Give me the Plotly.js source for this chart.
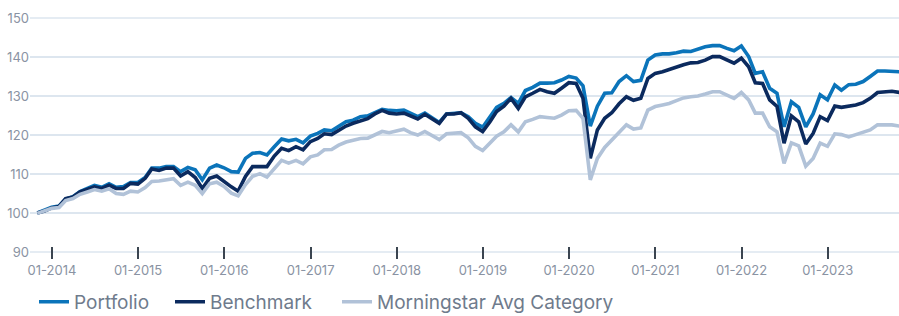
<!DOCTYPE html>
<html>
<head>
<meta charset="utf-8">
<script src="https://cdn.plot.ly/plotly-3.0.1.min.js"></script>
<style>
  html, body { margin: 0; padding: 0; background: #ffffff; }
  #chart { width: 899px; height: 316px; }
</style>
</head>
<body>
<div id="chart"></div>
<script>
// Monthly month-end observations, Oct 2013 .. Oct 2023 (growth of 100)
const startYear = 2013;
const startMonth = 10; // October

const portfolio = [
  100, 100.8, 101.5, 101.8, 103.6, 104.2, 105.5, 106.3, 107.1, 106.6,
  107.5, 106.6, 106.8, 107.8, 107.8, 109.1, 111.5, 111.5, 111.9, 111.9,
  110.6, 111.7, 111.1, 108.5, 111.5, 112.3, 111.6, 110.6, 110.5, 114.0,
  115.3, 115.5, 114.9, 117.0, 119.0, 118.5, 118.9, 118.0, 119.7, 120.4,
  121.3, 121.1, 122.3, 123.4, 123.8, 124.7, 124.9, 125.7, 126.6, 126.3,
  126.2, 126.4, 125.6, 124.7, 125.6, 124.3, 123.2, 125.4, 125.6, 125.7,
  124.7, 123.0, 122.0, 124.5, 127.1, 128.1, 129.6, 128.1, 131.4, 132.2,
  133.3, 133.3, 133.4, 134.1, 135.0, 134.6, 132.6, 122.3, 127.4, 130.7,
  130.8, 133.7, 135.2, 133.7, 134.0, 139.2, 140.5, 140.8, 140.8, 141.1,
  141.5, 141.4, 142.0, 142.6, 142.9, 142.9, 142.2, 141.6, 142.8, 140.1,
  135.8, 136.2, 132.0, 130.7, 122.1, 128.5, 127.1, 122.1, 125.4, 130.3,
  129.0, 132.8, 131.5, 132.9, 133.0, 133.7, 135.0, 136.4, 136.4, 136.2,
  136.2
];

const benchmark = [
  100, 100.5, 101.3, 101.7, 103.7, 104.1, 105.4, 106.0, 106.7, 106.3,
  107.1, 106.3, 106.3, 107.6, 107.4, 108.9, 111.3, 110.9, 111.5, 111.5,
  109.5, 110.6, 109.1, 106.3, 108.9, 109.5, 108.0, 106.7, 105.6, 109.4,
  111.9, 111.9, 111.9, 114.6, 116.6, 116.0, 117.0, 116.2, 118.3, 119.1,
  120.3, 120.1, 121.3, 122.3, 123.0, 123.7, 124.2, 125.4, 126.3, 125.6,
  125.4, 125.6, 124.8, 124.1, 125.3, 124.1, 123.0, 125.4, 125.4, 125.7,
  124.3, 122.1, 120.9, 123.4, 126.0, 127.4, 129.4, 126.8, 129.8, 130.7,
  131.7, 131.1, 130.7, 132.0, 133.4, 133.2, 129.4, 114.0, 121.3, 124.3,
  125.7, 128.0, 129.8, 128.9, 129.4, 134.5, 135.8, 136.2, 136.8, 137.5,
  138.0, 138.5, 138.6, 139.2, 140.1, 140.1, 139.2, 138.4, 139.7, 137.5,
  133.4, 133.2, 129.0, 127.3, 117.9, 124.9, 123.4, 117.7, 120.4, 124.7,
  123.7, 127.4, 127.1, 127.3, 127.7, 128.3, 129.4, 130.9, 131.1, 131.2,
  130.9
];

const category = [
  99.9, 100.5, 101.2, 101.4, 103.2, 103.7, 104.8, 105.4, 106.0, 105.6,
  106.2, 105.0, 104.8, 105.6, 105.4, 106.5, 108.1, 108.2, 108.5, 108.8,
  107.1, 107.9, 107.1, 105.0, 107.5, 107.9, 106.8, 105.1, 104.4, 107.3,
  109.4, 110.1, 109.2, 111.5, 113.5, 112.8, 113.5, 112.6, 114.4, 114.9,
  116.2, 116.3, 117.4, 118.2, 118.6, 119.1, 119.2, 120.0, 120.9, 120.6,
  121.1, 121.5, 120.6, 120.0, 120.9, 119.8, 118.8, 120.3, 120.4, 120.6,
  119.3, 117.1, 116.0, 117.9, 119.7, 120.8, 122.6, 120.8, 123.4, 124.0,
  124.7, 124.5, 124.3, 125.1, 126.2, 126.3, 124.3, 108.5, 114.0, 116.8,
  118.7, 120.4, 122.6, 121.5, 121.8, 126.4, 127.3, 127.7, 128.1, 128.8,
  129.5, 129.8, 130.0, 130.5, 131.1, 131.1, 130.2, 129.4, 130.9, 129.0,
  125.6, 125.6, 122.1, 120.8, 112.7, 118.0, 117.2, 112.0, 114.0, 117.9,
  117.1, 120.3, 120.1, 119.5, 120.1, 120.6, 121.3, 122.6, 122.6, 122.6,
  122.3
];

const seriesNames = ["Portfolio", "Benchmark", "Morningstar Avg Category"];
const tickYears = [2014, 2015, 2016, 2017, 2018, 2019, 2020, 2021, 2022, 2023];
const yTicks = [90, 100, 110, 120, 130, 140, 150];

function monthEnd(y, m) {
  const d = new Date(Date.UTC(y, m, 0)); // last day of month m (1-based)
  return d.toISOString().slice(0, 10);
}
const dates = portfolio.map((_, i) => {
  const total = (startMonth - 1) + i;
  const y = startYear + Math.floor(total / 12);
  const m = (total % 12) + 1;
  return monthEnd(y, m);
});
const tickVals = tickYears.map(y => y + "-01-01");

const FONT = "Inter, 'Noto Sans', sans-serif";
const colors = ["#0b74ba", "#0b2a5e", "#b1c2d8"];
const values = [portfolio, benchmark, category];
const legendIds = ["legend", "legend2", "legend3"];

const traces = values.map((v, k) => ({
  type: "scatter",
  mode: "lines",
  x: dates,
  y: v,
  name: seriesNames[k],
  legend: legendIds[k],
  line: { color: colors[k], width: 3.6, shape: "linear" },
  hoverinfo: "skip"
}));

const xRange = ["2013-09-30", "2023-10-30"];
const plotW = 869;
const plotH = 236;
const gridColor = "#dde6ef";

function legendAt(px) {
  return {
    orientation: "h",
    x: (px - 30) / plotW,
    xanchor: "left",
    y: -0.207,
    yanchor: "middle",
    font: { family: FONT, size: 19, color: "#6f7b8c" },
    bgcolor: "rgba(0,0,0,0)",
    borderwidth: 0
  };
}

const layout = {
  width: 899,
  height: 316,
  margin: { l: 30, r: 0, t: 17, b: 63, pad: 0, autoexpand: false },
  paper_bgcolor: "#ffffff",
  plot_bgcolor: "#ffffff",
  font: { family: FONT, color: "#8a93a3", size: 13 },
  showlegend: true,
  legend: legendAt(34),
  legend2: legendAt(170),
  legend3: legendAt(337),
  xaxis: {
    type: "date",
    range: xRange,
    anchor: "free",
    position: (6 + 0.25 * 3.9) / plotH,
    tickmode: "array",
    tickvals: tickVals,
    tickformat: "%m-%Y",
    ticks: "outside",
    ticklen: 12,
    tickwidth: 2,
    tickcolor: "#3b4550",
    showgrid: false,
    showline: false,
    zeroline: false,
    automargin: false,
    tickfont: { family: FONT, size: 13, color: "#8a93a3" },
    fixedrange: true
  },
  yaxis: {
    range: [89.75, 150.25],
    tickmode: "array",
    tickvals: yTicks,
    showgrid: true,
    gridcolor: gridColor,
    gridwidth: 1.6,
    zeroline: false,
    showline: false,
    automargin: false,
    ticks: "",
    tickfont: { family: FONT, size: 13, color: "#8a93a3" },
    fixedrange: true
  },
  shapes: [
    { type: "line", xref: "paper", x0: 0, x1: 1, yref: "y", y0: 90, y1: 90,
      line: { color: gridColor, width: 1.6 }, layer: "between" },
    { type: "line", xref: "paper", x0: 0, x1: 1, yref: "y", y0: 150, y1: 150,
      line: { color: gridColor, width: 1.6 }, layer: "between" },
    { type: "line", xref: "paper", x0: 0, x1: 1, yref: "y", y0: 100, y1: 100,
      line: { color: "#6b7482", width: 2 }, layer: "between" }
  ]
};

Plotly.newPlot("chart", traces, layout, { displayModeBar: false, staticPlot: true });
</script>
</body>
</html>
